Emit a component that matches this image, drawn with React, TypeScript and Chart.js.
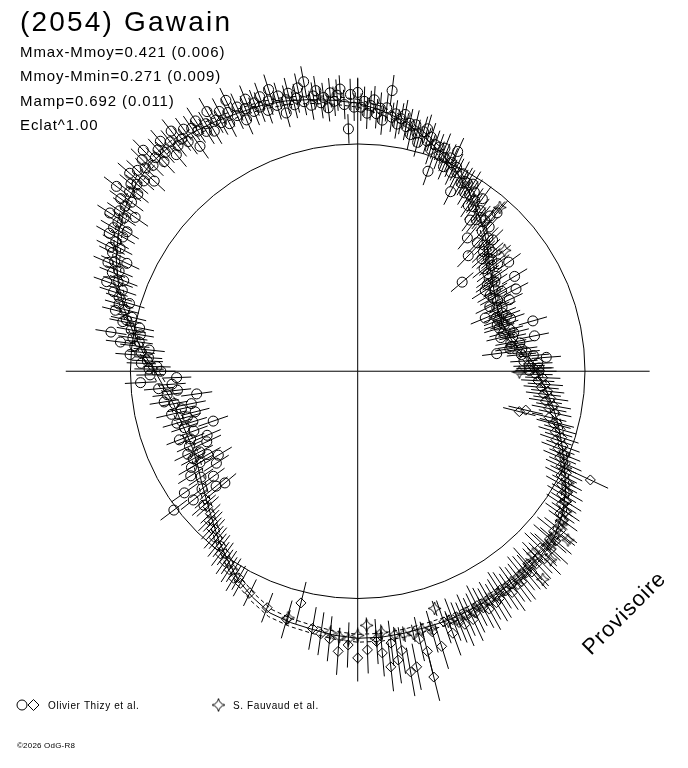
import React, { useEffect, useRef } from 'react';
import { Chart, registerables } from 'chart.js';

Chart.register(...registerables);

// ---------- text ----------
const TITLE = '(2054) Gawain';
const STATS = ['Mmax-Mmoy=0.421 (0.006)', 'Mmoy-Mmin=0.271 (0.009)', 'Mamp=0.692 (0.011)', 'Eclat^1.00'];
const LEGEND_LABELS = ['Olivier Thizy et al.', 'S. Fauvaud et al.'];
const COPYRIGHT = '©2026 OdG-R8';
const WATERMARK = 'Provisoire';

// ---------- data (phase in degrees, clockwise from top; radius in plot units) ----------
const MEAN_LEVEL = 232;
const AXIS_EXTENT = 298;
const FIT_SPREAD = 4;

const fitPhaseDeg = [0, 5, 10, 15, 20, 25, 30, 35, 40, 45, 50, 55, 60, 65, 70, 75, 80, 85, 90, 95, 100, 105, 110, 115,
  120, 125, 130, 135, 140, 145, 150, 155, 160, 165, 170, 175, 180, 185, 190, 195, 200, 205, 210, 215, 220, 225, 230, 235,
  240, 245, 250, 255, 260, 265, 270, 275, 280, 285, 290, 295, 300, 305, 310, 315, 320, 325, 330, 335, 340, 345, 350, 355];
const fitRadius = [273, 267, 260, 250, 240, 230, 219, 208, 197, 186, 175, 167, 161, 157, 155, 157, 162, 171, 182, 192,
  202, 212, 222, 233, 245, 255, 262, 265, 266, 267, 268, 269, 270, 270, 271, 272, 272, 270, 267, 265, 262, 254, 245, 233,
  222, 211, 202, 195, 189, 186, 186, 188, 191, 198, 207, 220, 233, 247, 260, 272, 282, 290, 296, 299, 299, 296, 293, 290,
  288, 285, 281, 277];

// [phaseDeg, radius, error]
const thizyCircles: [number, number, number][] = [
  [229, 208, 16], [230, 177, 15], [231, 186, 15], [232, 213, 16], [233, 235, 17], [233, 199, 15], [234, 182, 14], [235, 216, 16],
  [236, 193, 15], [237, 172, 15], [238, 201, 15], [239, 166, 16], [240, 186, 14], [240, 196, 15], [241, 175, 15], [242, 190, 14],
  [243, 181, 15], [244, 193, 15], [245, 170, 16], [246, 188, 14], [247, 167, 15], [248, 184, 15], [249, 195, 14], [250, 178, 15],
  [251, 156, 16], [252, 186, 14], [253, 176, 15], [254, 192, 15], [255, 180, 14], [256, 171, 15], [257, 195, 16], [258, 184, 14],
  [259, 173, 15], [260, 190, 14], [261, 200, 15], [262, 166, 16], [263, 196, 15], [264, 185, 14], [265, 204, 15], [266, 190, 14],
  [267, 222, 16], [268, 185, 15], [269, 212, 14], [270, 201, 15],
  [270.6, 213, 15], [271.3, 205, 14], [272.1, 221, 15], [272.8, 215, 16], [273.7, 214, 14], [274.2, 233, 15], [275, 222, 14],
  [275.8, 214, 16], [276.5, 229, 15], [277, 244, 15], [277.6, 225, 14], [278.4, 232, 15], [279, 255, 16], [279.5, 225, 14],
  [280.3, 235, 15], [281.2, 227, 15], [281.9, 245, 14], [282.5, 242, 16], [283.4, 237, 15], [284.1, 255, 14], [284.8, 246, 15],
  [285.7, 253, 15], [286.5, 243, 16], [287.2, 255, 14], [288, 262, 15], [288.9, 254, 15], [289.6, 272, 14], [290.4, 261, 16],
  [291.1, 256, 15], [291.9, 270, 14], [292.7, 264, 15], [293.5, 278, 16], [294.2, 272, 15], [295, 260, 14], [295.8, 278, 15],
  [296.6, 282, 16], [297.3, 273, 14], [298.1, 280, 15], [299, 290, 15], [299.7, 276, 14],
  [300.4, 289, 15], [301.1, 275, 14], [301.8, 288, 16], [302.5, 300, 15], [303.2, 285, 14], [303.9, 293, 15], [304.6, 276, 16],
  [305.3, 291, 15], [306, 299, 14], [306.7, 288, 15], [307.4, 310, 16], [308.1, 296, 15], [308.8, 288, 14], [309.5, 300, 15],
  [310.2, 295, 15], [310.9, 308, 16], [311.6, 292, 14], [312.3, 304, 15], [313, 284, 15], [313.7, 300, 14], [314.4, 308, 16],
  [315.1, 296, 15], [315.8, 314, 15], [316.5, 300, 14], [317.2, 291, 16], [317.9, 304, 15], [318.6, 297, 14], [319.3, 309, 15],
  [320, 288, 16], [320.7, 302, 15], [321.4, 294, 14], [322.1, 310, 15], [322.8, 297, 15], [323.5, 291, 16], [324.2, 304, 14],
  [324.9, 280, 15], [325.6, 300, 15], [326.3, 294, 14], [327, 304, 16], [327.7, 289, 15], [328.4, 296, 14], [329.1, 285, 15],
  [329.8, 306, 16], [330.5, 294, 15], [331.2, 289, 14], [331.9, 300, 15], [332.6, 284, 15], [333.3, 295, 16], [334, 307, 14],
  [334.7, 288, 15], [335.4, 296, 15], [336.1, 280, 16], [336.8, 291, 14], [337.5, 300, 15], [338.2, 285, 15], [338.9, 293, 14],
  [339.6, 287, 16], [340.3, 297, 15], [341, 281, 14], [341.7, 290, 15], [342.4, 301, 16], [343.1, 283, 15], [343.8, 292, 14],
  [344.5, 273, 15], [345.2, 286, 15], [345.9, 292, 16], [346.6, 279, 14], [347.3, 285, 15], [348, 295, 15], [348.7, 280, 14],
  [349.4, 300, 16], [350.1, 275, 15], [350.8, 284, 14], [351.5, 289, 15], [352.2, 276, 16], [352.9, 281, 15], [353.6, 270, 14],
  [354.3, 285, 15], [355, 276, 15], [355.7, 282, 16], [356.4, 288, 14], [357.1, 272, 15], [357.8, 247, 15], [358.5, 282, 16],
  [359.2, 269, 14],
  [0, 284, 15], [0.7, 269, 14], [1.4, 275, 15], [2.1, 263, 16], [2.8, 271, 15], [3.5, 277, 14], [4.2, 263, 15], [4.9, 269, 16],
  [5.6, 257, 15], [6.3, 270, 14], [7, 288, 16], [7.7, 261, 15], [8.4, 265, 14], [9.1, 255, 15], [9.8, 261, 16], [10.5, 266, 15],
  [11.2, 254, 14], [11.9, 258, 15], [12.6, 247, 16], [13.3, 258, 15], [14, 250, 14], [14.7, 241, 15], [15.4, 253, 16],
  [16.1, 257, 15], [16.8, 245, 14], [17.5, 250, 15], [18.2, 238, 16], [18.9, 244, 15], [19.4, 216, 15], [20, 243, 14],
  [20.7, 235, 15], [21.4, 244, 16], [22.1, 235, 15], [22.8, 226, 14], [23.5, 237, 15], [24.2, 233, 16], [24.5, 246, 15],
  [25.2, 224, 14], [25.9, 231, 15], [26.6, 226, 16], [27.4, 206, 15], [28.1, 228, 14], [28.8, 219, 15], [29.5, 222, 16],
  [30.3, 222, 15], [31, 212, 14], [31.7, 224, 15], [32.4, 213, 16], [33.1, 218, 15], [33.8, 203, 14], [34.5, 211, 15],
  [35.2, 205, 16], [35.9, 217, 15], [36.7, 192, 14], [37.4, 206, 15], [38.1, 196, 16], [38.8, 201, 15], [39.5, 176, 15],
  [40.2, 201, 14], [40.5, 208, 15], [41.4, 215, 16], [41.7, 191, 15], [42.4, 199, 14], [43, 179, 15], [43.8, 163, 16],
  [44.4, 190, 15], [45.1, 182, 14], [45.8, 192, 15], [46.5, 177, 16], [47.2, 183, 15], [47.9, 171, 14], [48.6, 183, 15],
  [49.3, 176, 16], [49.6, 140, 15], [50.3, 178, 14], [51, 166, 15], [51.8, 174, 16], [52.5, 180, 15], [53.2, 166, 14],
  [54.2, 190, 15], [54.9, 164, 16], [55.6, 171, 15], [56.3, 159, 14], [57, 167, 15], [57.7, 154, 16], [58.9, 187, 15],
  [59.5, 163, 14], [60.2, 156, 15], [61, 168, 16], [61.7, 157, 15], [62.6, 182, 14], [63.3, 160, 15], [64, 150, 16],
  [64.8, 171, 15], [65.5, 156, 14], [66.2, 161, 15], [67.4, 141, 16], [68.1, 159, 15], [68.8, 152, 14], [69.5, 162, 15],
  [70.2, 153, 16], [71, 165, 15], [71.7, 150, 14], [72.4, 157, 15], [73.1, 151, 16], [74, 186, 15], [74.7, 161, 14],
  [75.4, 154, 15], [76.1, 164, 16], [76.8, 150, 15], [77.5, 162, 14], [78.7, 184, 15], [79.4, 159, 16], [80.1, 168, 15],
  [80.8, 159, 14], [81.6, 157, 15], [82.3, 169, 16], [82.8, 143, 15], [83.5, 173, 14], [84.2, 168, 15], [84.9, 180, 16],
  [85.8, 193, 15], [86.5, 170, 14], [87.5, 184, 15], [88.2, 175, 16], [89, 185, 15], [89.7, 175, 14],
];

const thizyDiamonds: [number, number, number][] = [
  [89, 180, 18], [90, 186, 17], [91, 181, 18], [92, 189, 18], [93, 184, 17], [94, 192, 18], [95, 188, 18], [96, 195, 17],
  [97, 191, 18], [98, 199, 18], [99, 194, 17], [100, 203, 18], [101, 199, 18], [102, 206, 17], [103, 176, 18], [103.5, 201, 18],
  [104, 170, 17], [104.5, 210, 18], [105, 207, 18], [106, 215, 17], [107, 211, 18], [108, 219, 18], [109, 214, 17], [110, 223, 18],
  [111, 219, 18], [112, 228, 17], [113, 224, 18], [114, 232, 18], [115, 262, 20], [115, 229, 17], [116, 237, 18], [117, 233, 18],
  [118, 242, 17], [119, 238, 18], [120, 247, 18], [121, 243, 17], [122, 251, 18], [123, 248, 18], [124, 256, 17], [125, 252, 18],
  [126, 259, 18],
  [128, 263, 21], [129, 258, 22], [130.5, 266, 21], [131, 260, 22], [132.5, 268, 23], [133, 262, 21], [134, 259, 22],
  [135, 270, 23], [136, 264, 22], [137, 268, 21], [138.5, 262, 22], [139, 271, 23], [141, 265, 22], [142, 272, 23],
  [144, 268, 22], [145, 275, 23], [147, 266, 22], [148, 273, 23], [150, 270, 22], [151, 277, 24], [153, 268, 23],
  [154, 274, 22], [156, 272, 23], [157, 280, 24], [159, 271, 23],
  [140, 268, 22], [143, 272, 22], [146, 270, 23], [149, 275, 22], [152, 273, 23], [155, 279, 24], [158, 276, 22], [160, 284, 24],
  [161, 270, 23], [163, 293, 24], [164, 276, 22], [166, 294, 24], [166, 321, 25], [167, 280, 23], [168.7, 307, 24], [170, 311, 25],
  [171, 288, 24], [172, 297, 24], [173, 279, 23], [173.6, 303, 25], [175, 288, 24], [176, 276, 23], [178, 284, 24], [180, 292, 24],
  [182, 279, 23], [184, 286, 24], [186, 274, 23], [188, 270, 22], [190, 266, 22], [193.8, 243, 22],
  [196, 263, 20], [201, 258, 16], [206, 251, 15], [209, 247, 15], [210, 243, 14], [211, 246, 15], [212, 239, 14], [213, 241, 15],
  [214, 235, 14], [215, 237, 15], [216, 230, 14], [217, 233, 15], [218, 226, 14], [219, 228, 15], [220, 222, 14], [221, 224, 15],
  [222, 217, 14], [223, 219, 15], [224, 213, 14], [225, 215, 15], [226, 209, 14], [228, 206, 15], [230, 203, 14],
];

const fauvaudStars: [number, number, number][] = [
  [41, 221, 8], [50.6, 194, 8], [90.3, 165, 8],
  [112, 227, 8], [115, 234, 8], [118, 243, 9], [120, 246, 8], [122, 250, 8], [124, 256, 9], [126, 258, 8], [127, 260, 8],
  [128.7, 275, 9], [130, 262, 8], [132, 264, 8], [134.3, 275, 9], [136.1, 258, 8], [138.3, 284, 9], [138, 264, 8], [140, 266, 8],
  [142, 267, 8], [144, 266, 9], [146, 268, 8], [148, 269, 8], [150, 268, 8], [152, 270, 9], [154, 271, 8], [156, 270, 8],
  [158, 272, 8], [160, 271, 9], [162, 254, 8], [164, 272, 8], [166, 271, 8], [168, 273, 9], [170, 272, 8], [172, 271, 8],
  [174.8, 267, 8], [176, 273, 9], [178, 259, 8], [180, 269, 8], [182, 273, 8], [184, 271, 9], [186, 268, 8], [195.8, 261, 8],
];

// ---------- helpers ----------
const DEG = Math.PI / 180;
function toXY(deg: number, r: number) {
  return { x: r * Math.sin(deg * DEG), y: r * Math.cos(deg * DEG) };
}

function fitLine(offset: number) {
  const pts = fitPhaseDeg.map((p, i) => toXY(p, fitRadius[i] + offset));
  pts.push(pts[0]);
  return pts;
}

function makeStar(): HTMLCanvasElement {
  const c = document.createElement('canvas');
  c.width = 15;
  c.height = 15;
  const g = c.getContext('2d')!;
  const m = 7.5;
  const R = 6.5;
  const k = 1.1;
  g.strokeStyle = '#000';
  g.lineWidth = 1;
  g.beginPath();
  g.moveTo(m, m - R);
  g.quadraticCurveTo(m + k, m - k, m + R, m);
  g.quadraticCurveTo(m + k, m + k, m, m + R);
  g.quadraticCurveTo(m - k, m + k, m - R, m);
  g.quadraticCurveTo(m - k, m - k, m, m - R);
  g.stroke();
  return c;
}

const FONT = '"Liberation Sans", Arial, sans-serif';

export default function App() {
  const ref = useRef<HTMLCanvasElement | null>(null);

  useEffect(() => {
    if (!ref.current) return;
    const star = makeStar();

    const markerSets = [thizyCircles, thizyDiamonds, fauvaudStars];

    const decor = {
      id: 'polarDecor',
      beforeDatasetsDraw(chart: any) {
        const { ctx, scales } = chart;
        const xs = scales.x;
        const ys = scales.y;
        const cx = xs.getPixelForValue(0);
        const cy = ys.getPixelForValue(0);
        const rpx = xs.getPixelForValue(MEAN_LEVEL) - cx;
        ctx.save();
        ctx.strokeStyle = '#000';
        ctx.lineWidth = 1;
        ctx.beginPath();
        ctx.arc(cx, cy, rpx, 0, Math.PI * 2);
        ctx.stroke();
        // radial error bars
        ctx.beginPath();
        for (const set of markerSets) {
          for (const [p, r, e] of set) {
            const a = toXY(p, r - e);
            const b = toXY(p, r + e);
            ctx.moveTo(xs.getPixelForValue(a.x), ys.getPixelForValue(a.y));
            ctx.lineTo(xs.getPixelForValue(b.x), ys.getPixelForValue(b.y));
          }
        }
        ctx.stroke();
        ctx.restore();
      },
      afterDraw(chart: any) {
        const { ctx } = chart;
        ctx.save();
        ctx.fillStyle = '#000';
        ctx.strokeStyle = '#000';
        ctx.lineWidth = 1;
        ctx.textBaseline = 'alphabetic';
        ctx.textAlign = 'left';
        const anyCtx = ctx as any;
        anyCtx.letterSpacing = '2.2px';
        ctx.font = `28px ${FONT}`;
        ctx.fillText(TITLE, 20, 31);
        anyCtx.letterSpacing = '0.9px';
        ctx.font = `15px ${FONT}`;
        const base = [57, 81, 106, 130];
        STATS.forEach((s, i) => ctx.fillText(s, 20, base[i]));

        // legend
        const ly = 705;
        ctx.beginPath();
        ctx.arc(22, ly, 5, 0, Math.PI * 2);
        ctx.stroke();
        ctx.beginPath();
        ctx.moveTo(28, ly);
        ctx.lineTo(33.5, ly - 5.5);
        ctx.lineTo(39, ly);
        ctx.lineTo(33.5, ly + 5.5);
        ctx.closePath();
        ctx.stroke();
        ctx.drawImage(star, 218.5 - star.width / 2, ly - star.height / 2);
        anyCtx.letterSpacing = '0.6px';
        ctx.font = `10px ${FONT}`;
        ctx.fillText(LEGEND_LABELS[0], 48, ly + 4);
        ctx.fillText(LEGEND_LABELS[1], 233, ly + 4);

        anyCtx.letterSpacing = '0.2px';
        ctx.font = `8px ${FONT}`;
        ctx.fillText(COPYRIGHT, 17, 748);

        // watermark
        ctx.translate(591, 656);
        ctx.rotate(-45 * DEG);
        anyCtx.letterSpacing = '1px';
        ctx.font = `22px ${FONT}`;
        ctx.fillText(WATERMARK, 0, 0);
        ctx.restore();
      },
    };

    const lineDs = (data: any[], dash: number[] = []) => ({
      data,
      showLine: true,
      borderColor: '#000',
      borderWidth: 1,
      borderDash: dash,
      pointRadius: 0,
      tension: 0,
      fill: false,
      clip: false as any,
    });

    const chart = new Chart(ref.current, {
      type: 'scatter',
      data: {
        datasets: [
          lineDs([{ x: -AXIS_EXTENT, y: 0 }, { x: AXIS_EXTENT, y: 0 }]),
          lineDs([{ x: 0, y: -AXIS_EXTENT }, { x: 0, y: AXIS_EXTENT }]),
          lineDs(fitLine(0)),
          lineDs(fitLine(-FIT_SPREAD), [4, 3]),
          lineDs(fitLine(FIT_SPREAD), [4, 3]),
          {
            data: thizyCircles.map(([p, r]) => toXY(p, r)),
            pointStyle: 'circle',
            pointRadius: 5,
            borderColor: '#000',
            borderWidth: 1,
            backgroundColor: 'rgba(0,0,0,0)',
            clip: false as any,
          },
          {
            data: thizyDiamonds.map(([p, r]) => toXY(p, r)),
            pointStyle: 'rectRot',
            pointRadius: 5,
            borderColor: '#000',
            borderWidth: 1,
            backgroundColor: 'rgba(0,0,0,0)',
            clip: false as any,
          },
          {
            data: fauvaudStars.map(([p, r]) => toXY(p, r)),
            pointStyle: star as any,
            pointRadius: 6,
            borderColor: '#000',
            borderWidth: 1,
            backgroundColor: 'rgba(0,0,0,0)',
            clip: false as any,
          },
        ] as any,
      },
      options: {
        animation: false,
        responsive: true,
        maintainAspectRatio: false,
        events: [],
        layout: { padding: 0 },
        plugins: {
          legend: { display: false },
          tooltip: { enabled: false },
          title: { display: false },
        },
        scales: {
          x: { type: 'linear', min: -358, max: 330, display: false },
          y: { type: 'linear', min: -397, max: 371, display: false },
        },
      },
      plugins: [decor],
    });
    return () => chart.destroy();
  }, []);

  return (
    <div style={{ position: 'absolute', left: 0, top: 0, width: 688, height: 768, background: '#fff' }}>
      <canvas ref={ref} />
    </div>
  );
}
